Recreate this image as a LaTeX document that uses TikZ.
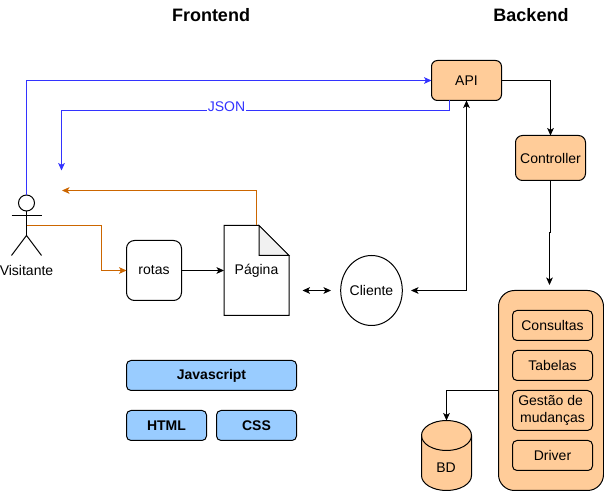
\documentclass[tikz,border=0pt]{standalone}
\usepackage{fontspec}
\setmainfont{Liberation Sans}
\usetikzlibrary{arrows.meta,shapes.geometric}
\definecolor{boxorange}{HTML}{FFCC99}
\definecolor{boxblue}{HTML}{99CCFF}
\definecolor{lineblue}{HTML}{3333FF}
\definecolor{lineorange}{HTML}{CC6600}
\definecolor{foldgray}{HTML}{F1F1F1}
\tikzset{
  x=0.75pt,y=-0.75pt,
  every node/.style={font=\fontsize{10.5}{12.75}\selectfont,inner sep=0pt,outer sep=0pt,align=center},
  every path/.style={line width=0.75pt},
  tip/.style={-{Stealth[length=5.6pt,width=5pt,inset=1.4pt]}},
  tips/.style={{Stealth[length=5.6pt,width=5pt,inset=1.4pt]}-{Stealth[length=5.6pt,width=5pt,inset=1.4pt]}},
  rbox/.style n args={3}{draw=black,rounded corners=#3*0.75pt,minimum width=#1*0.75pt,minimum height=#2*0.75pt},
  backbox/.style={fill=boxorange},
  techbox/.style={fill=boxblue,font=\fontsize{10.5}{12.75}\selectfont\bfseries},
  title/.style={font=\fontsize{13.5}{16}\selectfont\bfseries},
  blueline/.style={draw=lineblue,tip},
  orangeline/.style={draw=lineorange,tip},
}
\begin{document}
\begin{tikzpicture}
\useasboundingbox (0,0) rectangle (604,491);

% titles
\node[title] (tfront) at (211,15) {Frontend};
\node[title] (tback) at (531,15) {Backend};

% actor
\node[draw=black,circle,minimum size=12pt] (head) at (26.5,203) {};
\coordinate (neck) at (26.5,211);
\coordinate (hip) at (26.5,235.5);
\coordinate (waist) at (26.5,225.5);
\draw (neck) -- (hip);
\draw (11.5,215.5) -- (41.5,215.5);
\draw (11.5,255.5) -- (hip) -- (41.5,255.5);
\node (visit) at (26.5,270) {Visitante};

% frontend
\node[rbox={55}{60}{8}] (rotas) at (154,270.5) {rotas};
\draw[fill=white] (224,225.5) -- (259,225.5) -- (289,255.5) -- (289,315.5) -- (224,315.5) -- cycle;
\draw[fill=foldgray] (259,225.5) -- (259,255.5) -- (289,255.5) -- cycle;
\node[minimum width=48.75pt,minimum height=67.5pt] (pagina) at (256.5,270.5) {Página};
\coordinate (pagetop) at (256.5,225.5);
\node[draw=black,ellipse,minimum width=45pt,minimum height=52.5pt] (cliente) at (371.5,290.5) {Cliente};

\node[rbox={170}{30}{4.5},techbox] (js) at (211.5,375.5) {Javascript};
\node[rbox={80}{30}{4.5},techbox] (html) at (166.5,425.5) {HTML};
\node[rbox={80}{30}{4.5},techbox] (css) at (256.5,425.5) {CSS};

% backend
\node[rbox={70}{40}{6},backbox] (api) at (466.5,80.5) {API};
\node[rbox={70}{45}{7},backbox] (ctrl) at (550.5,158) {Controller};
\node[rbox={105}{200}{16},backbox] (big) at (551,390.5) {};
\node[rbox={80}{30}{4.5}] (cons) at (552.5,325.5) {Consultas};
\node[rbox={80}{30}{4.5}] (tab) at (552.5,365.5) {Tabelas};
\node[rbox={80}{40}{5}] (gest) at (552.5,410.5) {Gestão de\ \mbox{}\\mudanças};
\node[rbox={80}{30}{4.5}] (drv) at (552.5,455.5) {Driver};

% database
\draw[fill=boxorange] (421.5,435.5) .. controls (421.5,427.2) and (432.7,420.5) .. (446.5,420.5)
  .. controls (460.3,420.5) and (471.5,427.2) .. (471.5,435.5) -- (471.5,475.5)
  .. controls (471.5,483.8) and (460.3,490.5) .. (446.5,490.5)
  .. controls (432.7,490.5) and (421.5,483.8) .. (421.5,475.5) -- cycle;
\draw (421.5,435.5) .. controls (421.5,443.8) and (432.7,450.5) .. (446.5,450.5)
  .. controls (460.3,450.5) and (471.5,443.8) .. (471.5,435.5);
\node[minimum width=37.5pt,minimum height=52.5pt] (bd) at (446.5,455.5) {};
\node (bdlabel) at (446,468) {BD};

% connectors
\coordinate (jsonend) at (61.5,170.5);
\coordinate (orangeend) at (62,190.5);
\coordinate (apijson) at (449.5,100.5);

\draw[blueline] (head.north) |- (api.west);
\draw[blueline] (apijson) -- (449.5,110.5) -- (61.5,110.5) -- (jsonend);
\node[text=lineblue,fill=white,inner xsep=0.3pt] (json) at (226.5,107) {JSON};
\draw[orangeline] (pagetop) |- (orangeend);
\draw[orangeline] (waist) -- (101.5,225.5) |- (rotas.west);
\draw[tip] (rotas.east) -- (pagina.west);
\coordinate (pcl) at (302.5,290.5);
\coordinate (pcr) at (331,290.5);
\draw[tips] (pcl) -- (pcr);
\coordinate (clr) at (411,290.5);
\draw[tips] (clr) -| (api.south);
\draw[tip] (api.east) -| (ctrl.north);
\coordinate (bigtop) at (549.5,285);
\draw[tip] (ctrl.south) -- (550.5,232.5) -- (549.5,232.5) -- (bigtop);
\draw[tip] (big.west) -| (446.5,420.5);
\end{tikzpicture}
\end{document}
